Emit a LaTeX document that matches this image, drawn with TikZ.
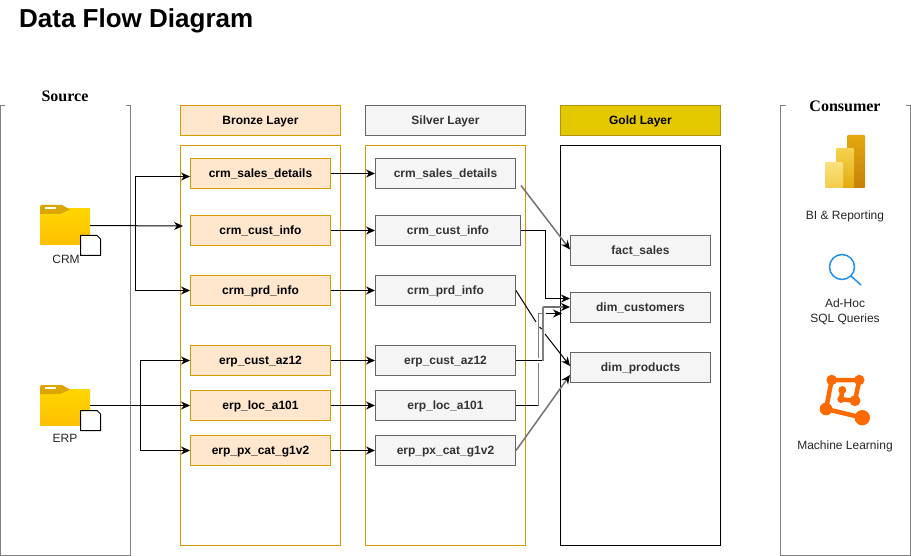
\documentclass[tikz,border=0pt]{standalone}
\usepackage{fontspec}
\setmainfont{Liberation Sans}
\newfontfamily\serifbold{Liberation Serif}
\usetikzlibrary{arrows.meta}
\definecolor{bronzefill}{HTML}{FFE6CC}
\definecolor{bronzeline}{HTML}{D79B00}
\definecolor{silverfill}{HTML}{F5F5F5}
\definecolor{silverline}{HTML}{666666}
\definecolor{goldfill}{HTML}{E3C800}
\definecolor{goldline}{HTML}{B09500}
\definecolor{mlorange}{HTML}{FF6A00}
\definecolor{lensblue}{HTML}{1E90F0}
\definecolor{foldertop}{HTML}{FFD600}
\definecolor{folderlow}{HTML}{FFC000}
\definecolor{foldertab}{HTML}{DDA500}
\tikzset{
    box/.style={rectangle, draw, line width=1pt, minimum width=140pt, minimum height=30pt, inner sep=0pt, text height=10pt, text depth=2pt, font=\fontsize{12}{14}\selectfont\bfseries},
    bronzebox/.style={box, draw=bronzeline, fill=bronzefill},
    silverbox/.style={box, draw=silverline, fill=silverfill, text=black!80},
    lane/.style={draw, line width=1pt, minimum width=160pt, minimum height=400pt, inner sep=0pt},
    iconlabel/.style={font=\fontsize{12}{15}\selectfont, text=black!85, align=center},
    lanetitle/.style={font=\serifbold\fontsize{16}{18}\selectfont\bfseries},
    flow/.style={-{Stealth[length=9pt,width=8pt]}, line width=1pt},
    grayflow/.style={-{Stealth[length=9pt,width=8pt,color=black]}, draw=black!55, line width=1.5pt},
    bracket/.style={draw=black!50, line width=1pt},
    docicon/.style={draw=black, fill=white, line width=1pt},
    folderhit/.style={inner sep=0pt, minimum width=50pt, minimum height=36pt}
}
\begin{document}
\begin{tikzpicture}[x=1pt,y=-1pt]
    \useasboundingbox (0,0) rectangle (911,556);
    \node[anchor=west, inner sep=0pt, font=\fontsize{26}{30}\selectfont\bfseries] (title) at (19,21) {Data Flow Diagram};

    % source and consumer frames
    \draw[bracket] (5,105.5) -- (0.5,105.5) -- (0.5,555) -- (130.5,555) -- (130.5,105.5) -- (125.5,105.5);
    \draw[bracket] (785.5,105.5) -- (780.5,105.5) -- (780.5,555) -- (910.5,555) -- (910.5,105.5) -- (905.5,105.5);
    \node[lanetitle] (source) at (65,96) {Source};
    \node[lanetitle] (consumer) at (845,106) {Consumer};

    % lanes
    \node[lane, draw=bronzeline] (bronzelane) at (260.5,345.5) {};
    \node[lane, draw=bronzeline] (silverlane) at (445.5,345.5) {};
    \node[lane, draw=black] (goldlane) at (640.5,345.5) {};
    \node[bronzebox, minimum width=160pt] (bronzehead) at (260.5,120.5) {Bronze Layer};
    \node[silverbox, minimum width=160pt] (silverhead) at (445.5,120.5) {Silver Layer};
    \node[box, minimum width=160pt, draw=goldline, fill=goldfill] (goldhead) at (640.5,120.5) {Gold Layer};

    % bronze tables
    \node[bronzebox] (bsales) at (260.5,173.5) {crm\_sales\_details};
    \node[bronzebox] (bcust) at (260.5,230.5) {crm\_cust\_info};
    \node[bronzebox] (bprd) at (260.5,290.5) {crm\_prd\_info};
    \node[bronzebox] (baz) at (260.5,360.5) {erp\_cust\_az12};
    \node[bronzebox] (bloc) at (260.5,405.5) {erp\_loc\_a101};
    \node[bronzebox] (bpx) at (260.5,450.5) {erp\_px\_cat\_g1v2};

    % silver tables
    \node[silverbox] (ssales) at (445.5,173.5) {crm\_sales\_details};
    \node[silverbox, minimum width=145pt] (scust) at (448,230.5) {crm\_cust\_info};
    \node[silverbox] (sprd) at (445.5,290.5) {crm\_prd\_info};
    \node[silverbox] (saz) at (445.5,360.5) {erp\_cust\_az12};
    \node[silverbox] (sloc) at (445.5,405.5) {erp\_loc\_a101};
    \node[silverbox] (spx) at (445.5,450.5) {erp\_px\_cat\_g1v2};

    % gold tables
    \node[silverbox] (factsales) at (640.5,250.5) {fact\_sales};
    \node[silverbox] (dimcust) at (640.5,307.5) {dim\_customers};
    \node[silverbox] (dimprod) at (640.5,367.5) {dim\_products};

    % folders
    \shade[top color=foldertop, bottom color=folderlow] (40,209) rectangle (90,245);
    \fill[foldertab] (40,207) -- (41,205) -- (62,205) -- (70,209.5) -- (60,214) -- (40,214) -- cycle;
    \fill[white] (45,207) rectangle (56,209);
    \node[folderhit] (crmfolder) at (65,225.5) {};
    \draw[docicon] (80.5,235.5) -- (97,235.5) -- (100.5,239) -- (100.5,255.5) -- (80.5,255.5) -- cycle;
    \node[iconlabel] (crmlabel) at (66,259) {CRM};

    \shade[top color=foldertop, bottom color=folderlow] (40,389) rectangle (90,425);
    \fill[foldertab] (40,387) -- (41,385) -- (62,385) -- (70,389.5) -- (60,394) -- (40,394) -- cycle;
    \fill[white] (45,387) rectangle (56,389);
    \node[folderhit] (erpfolder) at (65,405.5) {};
    \draw[docicon] (80.5,410.5) -- (97,410.5) -- (100.5,414) -- (100.5,430.5) -- (80.5,430.5) -- cycle;
    \node[iconlabel] (erplabel) at (65,438) {ERP};

    % source to bronze
    \draw[flow] (crmfolder.east) -- ([xshift=-7pt,yshift=4.5pt]bcust.west);
    \draw[flow] (135.5,225.5) |- ([yshift=-3pt]bsales.west);
    \draw[flow] (135.5,225.5) |- (bprd.west);
    \draw[flow] (erpfolder.east) -- (bloc.west);
    \draw[flow] (140.5,405.5) |- (baz.west);
    \draw[flow] (140.5,405.5) |- (bpx.west);

    % bronze to silver
    \draw[flow] (bsales) -- (ssales);
    \draw[flow] (bcust) -- (scust);
    \draw[flow] (bprd) -- (sprd);
    \draw[flow] (baz) -- (saz);
    \draw[flow] (bloc) -- (sloc);
    \draw[flow] (bpx) -- (spx);

    % silver to gold
    \draw[grayflow] ([xshift=5pt,yshift=-12pt]ssales.east) -- ([yshift=1pt]factsales.west);
    \draw[flow] (scust.east) -- (545.5,230.5) |- ([yshift=9pt]dimcust.west);
    \draw[line width=1pt] (sloc.east) -- (538.5,405.5);
    \draw[bracket, line width=1.5pt] (538.5,405.5) -- (538.5,363);
    \draw[bracket, line width=1.5pt] (538.5,358) -- (538.5,313.5) -- (542,313.5);
    \draw[flow] (546,313.5) -- ([xshift=-8pt,yshift=-6pt]dimcust.west);
    \draw[line width=1pt] (saz.east) -- (543,360.5);
    \draw[bracket, line width=1.5pt] (543,360.5) -- (543,307);
    \draw[grayflow] (543,307) -- ([yshift=0.5pt]dimcust.west);
    \draw[line width=1pt] (sprd.east) -- (536,322) (539.5,327) -- (541.7,329);
    \draw[flow] (545,334) -- ([yshift=1.5pt]dimprod.west);
    \draw[grayflow] (spx.east) -- ([yshift=-7.5pt]dimprod.west);

    % BI icon
    \shade[rounded corners=1pt, top color={rgb,255:red,227;green,168;blue,15}, bottom color={rgb,255:red,197;green,127;blue,10}] (847,135) rectangle (865,188);
    \shade[rounded corners=1pt, top color={rgb,255:red,245;green,210;blue,79}, bottom color={rgb,255:red,227;green,170;blue,16}] (836,148) rectangle (854,188);
    \shade[rounded corners=1pt, top color={rgb,255:red,250;green,226;blue,127}, bottom color={rgb,255:red,243;green,204;blue,74}] (825,162) rectangle (843,188);
    \node[iconlabel] (bilabel) at (845,216.5) {BI \& Reporting};

    % magnifier icon
    \draw[lensblue, line width=1.5pt] (842,267) circle (12.5);
    \draw[lensblue, line width=1.5pt] (851,276) -- (861,285);
    \node[iconlabel] (adhoclabel) at (845,311.5) {Ad-Hoc\\SQL Queries};

    % network icon
    \draw[mlorange, line width=4.5pt, line join=round] (831.7,380) -- (859.3,380) -- (855,400.7) -- (841,399.3) -- (842.3,390);
    \draw[mlorange, line width=4.5pt, line join=round] (831.7,380) -- (826,409) -- (862.3,417.7);
    \foreach \px/\py/\pr in {831.7/380/5.3, 859.3/380/5.2, 826/409/6.3, 862.3/417.7/7.7, 842.3/390/4, 841/399.3/3.7, 855/400.7/5.5}
        \fill[mlorange] (\px,\py) circle (\pr);
    \node[iconlabel] (mllabel) at (845,446.5) {Machine Learning};
\end{tikzpicture}
\end{document}
